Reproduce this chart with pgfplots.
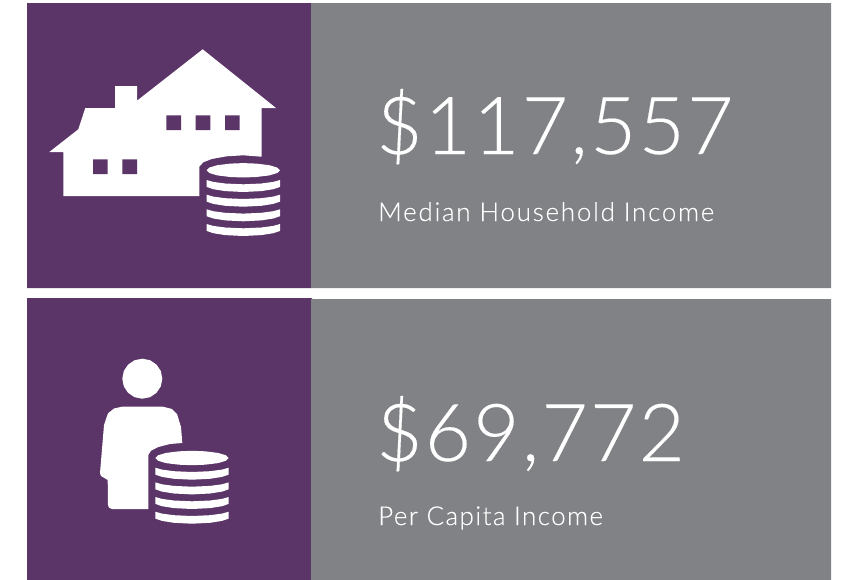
\documentclass[border=0pt]{standalone}
\usepackage{fontspec}
\usepackage{pgfplots}
\usepackage{pgfplotstable}
\pgfplotsset{compat=1.18}
\setmainfont{Lato Light}
\newfontfamily\bigfont[LetterSpace=2.7,FakeBold=0.2]{Lato Light}
\newfontfamily\labelfont[LetterSpace=6.7,FakeBold=0.15]{Lato Light}
\newfontfamily\labelfontb[LetterSpace=5.5,FakeBold=0.15]{Lato Light}
\definecolor{panelpurple}{HTML}{5B3468}
\definecolor{panelgray}{HTML}{818285}

% coin stack, relative to the centre of the top coin
\pgfplotstableread{
x y
-36.7 0
-34 2.7
-26 5.1
-13 6.7
0 7.2
13 6.7
26 5.1
34 2.7
36.7 0
34 -2.7
26 -5.1
13 -6.7
0 -7.2
-13 -6.7
-26 -5.1
-34 -2.7
-36.7 0
}\cointop
\pgfplotstableread{
x y
-36.7 9.7
-30 11.6
-18 13.2
0 14
18 13.2
30 11.6
36.7 9.7
36.7 16.6
30 18.9
18 20.8
0 21.7
-18 20.8
-30 18.9
-36.7 16.6
-36.7 9.7
}\coinband

\begin{document}
\begin{tikzpicture}
\useasboundingbox (0,0) rectangle (843bp,580bp);
\begin{axis}[
    at={(0,0)}, anchor=south west,
    width=843bp, height=580bp, scale only axis,
    xmin=0, xmax=843, ymin=0, ymax=580, y dir=reverse,
    hide axis, clip=false,
    every axis plot/.append style={draw=none, forget plot},
]
% panels
\addplot[fill=panelpurple] coordinates {(27,3) (311,3) (311,288) (27,288) (27,3)};
\addplot[fill=panelgray] coordinates {(311,3) (831,3) (831,288) (311,288) (311,3)};
\addplot[fill=panelpurple] coordinates {(27,298) (312,298) (312,580) (27,580) (27,298)};
\addplot[fill=panelgray] coordinates {(311,299) (831,299) (831,580) (311,580) (311,299)};

% house
\addplot[fill=white] coordinates {
    (202.7,49.3) (276,108) (261.7,108) (261.7,156.7) (243.3,155.3) (226.7,156.3)
    (211.7,159) (203.3,162.3) (199.3,166.7) (199.3,196) (63.3,196) (63.3,152)
    (49.3,152) (78.3,129.3) (85.3,108) (115,108) (115,86) (137,86) (137,100.7)
    (202.7,49.3)};
\addplot[fill=panelpurple] coordinates {(166.3,115.3) (181,115.3) (181,130) (166.3,130) (166.3,115.3)};
\addplot[fill=panelpurple] coordinates {(195.7,115.3) (210.3,115.3) (210.3,130) (195.7,130) (195.7,115.3)};
\addplot[fill=panelpurple] coordinates {(225,115.3) (239.7,115.3) (239.7,130) (225,130) (225,115.3)};
\addplot[fill=panelpurple] coordinates {(93,159.3) (107.7,159.3) (107.7,174) (93,174) (93,159.3)};
\addplot[fill=panelpurple] coordinates {(122.3,159.3) (137,159.3) (137,174) (122.3,174) (122.3,159.3)};

% coins beside the house
\addplot[fill=white] table[x expr=\thisrow{x}+243.3, y expr=\thisrow{y}+170.3] {\cointop};
\addplot[fill=white] table[x expr=\thisrow{x}+243.3, y expr=\thisrow{y}+170.3] {\coinband};
\addplot[fill=white] table[x expr=\thisrow{x}+243.3, y expr=\thisrow{y}+185] {\coinband};
\addplot[fill=white] table[x expr=\thisrow{x}+243.3, y expr=\thisrow{y}+199.6] {\coinband};
\addplot[fill=white] table[x expr=\thisrow{x}+243.3, y expr=\thisrow{y}+214.3] {\coinband};

% person
\addplot[fill=white] coordinates {
    (162.3,378.7) (160.8,386.4) (156.5,392.8) (150,397.2) (142.3,398.7) (134.6,397.2)
    (128.1,392.8) (123.8,386.4) (122.3,378.7) (123.8,371) (128.1,364.6) (134.6,360.2)
    (142.3,358.7) (150,360.2) (156.5,364.6) (160.8,371) (162.3,378.7)};
\addplot[fill=white] coordinates {
    (122,406.7) (163,406.7) (172,409) (177,414) (181,427) (182.3,443) (170,444)
    (158.3,447) (151,450.7) (148.3,455) (148.3,509) (112,509) (109,507.5) (108,505)
    (107.7,480) (101,476) (100,473) (104,425) (108,413.3) (114,408.5) (122,406.7)};

% coins beside the person
\addplot[fill=white] table[x expr=\thisrow{x}+192, y expr=\thisrow{y}+458] {\cointop};
\addplot[fill=white] table[x expr=\thisrow{x}+192, y expr=\thisrow{y}+458] {\coinband};
\addplot[fill=white] table[x expr=\thisrow{x}+192, y expr=\thisrow{y}+472.7] {\coinband};
\addplot[fill=white] table[x expr=\thisrow{x}+192, y expr=\thisrow{y}+487.3] {\coinband};
\addplot[fill=white] table[x expr=\thisrow{x}+192, y expr=\thisrow{y}+502] {\coinband};

% text
\node[anchor=base west, text=white, inner sep=0pt, font=\bigfont\fontsize{80bp}{80bp}\selectfont] at (axis cs:376,154) {\$117,557};
\node[anchor=base west, text=white, inner sep=0pt, font=\labelfont\fontsize{26bp}{26bp}\selectfont] at (axis cs:378,221) {Median Household Income};
\node[anchor=base west, text=white, inner sep=0pt, font=\bigfont\fontsize{80bp}{80bp}\selectfont] at (axis cs:376,461) {\$69,772};
\node[anchor=base west, text=white, inner sep=0pt, font=\labelfontb\fontsize{26bp}{26bp}\selectfont] at (axis cs:378,525) {Per Capita Income};
\end{axis}
\end{tikzpicture}
\end{document}
